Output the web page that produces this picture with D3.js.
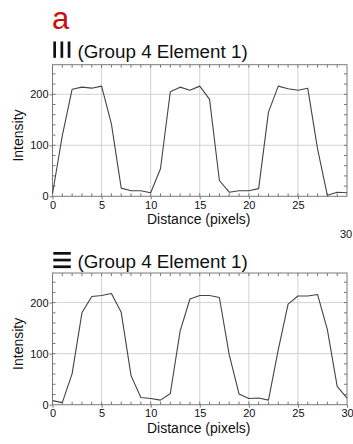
<!DOCTYPE html>
<html>
<head>
<meta charset="utf-8">
<script src="https://cdn.jsdelivr.net/npm/d3@7/dist/d3.min.js"></script>
<style>
  html, body { margin: 0; padding: 0; background: #fff; }
  svg { display: block; font-family: "Liberation Sans", Arial, Helvetica, sans-serif; }
</style>
</head>
<body>
<svg id="chart" width="353" height="444"></svg>
<script>
// ---- data ----
const distance = [0,1,2,3,4,5,6,7,8,9,10,11,12,13,14,15,16,17,18,19,20,21,22,23,24,25,26,27,28,29,30];
const verticalBarsIntensity = [5,119,210,214,212,216,142,16,11,11,7,54,205,214,208,216,190,31,8,11,11,15,165,216,211,208,212,93,2,8,7];
const horizontalBarsIntensity = [8,4,61,180,212,214,218,181,57,14,12,9,22,144,207,214,214,210,98,21,12,13,9,108,197,213,213,216,147,36,13];
const xTickValues = [0,5,10,15,20,25,30];
const yTickValues = [0,100,200];
const panelTitle = "(Group 4 Element 1)";
const xAxisTitle = "Distance (pixels)";
const yAxisTitle = "Intensity";

const svg = d3.select("#chart");

// panel letter
svg.append("text")
  .attr("x", 52).attr("y", 29)
  .attr("font-size", 31)
  .attr("fill", "#c8100f")
  .text("a");

function drawPanel(cfg) {
  const x = d3.scaleLinear().domain([0, 30]).range([cfg.left, cfg.right]);
  const y = d3.scaleLinear().domain([0, 258]).range([cfg.bottom, cfg.top]);
  const g = svg.append("g");

  // grid lines
  g.selectAll(".vgrid").data([5,10,15,20,25]).join("line")
    .attr("x1", d => x(d)).attr("x2", d => x(d))
    .attr("y1", cfg.top).attr("y2", cfg.bottom)
    .attr("stroke", "#d2d2d2").attr("stroke-width", 1);
  g.selectAll(".hgrid").data([100,200]).join("line")
    .attr("x1", cfg.left).attr("x2", cfg.right)
    .attr("y1", d => y(d)).attr("y2", d => y(d))
    .attr("stroke", "#d2d2d2").attr("stroke-width", 1);

  // minor ticks (inward) on all four sides
  const xMinor = d3.range(1, 30);
  const yMinor = d3.range(20, 258, 20);
  const tk = 3;
  g.selectAll(".xb").data(xMinor).join("line")
    .attr("x1", d => x(d)).attr("x2", d => x(d))
    .attr("y1", cfg.bottom).attr("y2", cfg.bottom - tk)
    .attr("stroke", "#777").attr("stroke-width", 1);
  g.selectAll(".xt").data(xMinor).join("line")
    .attr("x1", d => x(d)).attr("x2", d => x(d))
    .attr("y1", cfg.top).attr("y2", cfg.top + tk)
    .attr("stroke", "#777").attr("stroke-width", 1);
  g.selectAll(".yl").data(yMinor).join("line")
    .attr("x1", cfg.left).attr("x2", cfg.left + tk)
    .attr("y1", d => y(d)).attr("y2", d => y(d))
    .attr("stroke", "#777").attr("stroke-width", 1);
  g.selectAll(".yr").data(yMinor).join("line")
    .attr("x1", cfg.right).attr("x2", cfg.right - tk)
    .attr("y1", d => y(d)).attr("y2", d => y(d))
    .attr("stroke", "#777").attr("stroke-width", 1);

  // frame
  g.append("rect")
    .attr("x", cfg.left).attr("y", cfg.top)
    .attr("width", cfg.right - cfg.left).attr("height", cfg.bottom - cfg.top)
    .attr("fill", "none").attr("stroke", "#7a7a7a").attr("stroke-width", 1);

  // axes
  const yAxis = d3.axisLeft(y).tickValues(yTickValues).tickSize(3).tickPadding(1);
  const ya = g.append("g").attr("transform", `translate(${cfg.left},0)`).call(yAxis);
  ya.select(".domain").remove();
  ya.selectAll(".tick line").attr("stroke", "#777");
  ya.selectAll(".tick text").attr("font-size", 11).attr("fill", "#111")
    .attr("font-family", "Liberation Sans, Arial, sans-serif");

  const xTicks = cfg.showLast30 ? xTickValues : xTickValues.filter(v => v < 30);
  const xAxis = d3.axisBottom(x).tickValues(xTicks).tickSize(3).tickPadding(2);
  const xa = g.append("g").attr("transform", `translate(0,${cfg.bottom})`).call(xAxis);
  xa.select(".domain").remove();
  xa.selectAll(".tick line").attr("stroke", "#777");
  xa.selectAll(".tick text").attr("font-size", 11).attr("fill", "#111")
    .attr("font-family", "Liberation Sans, Arial, sans-serif");

  // data line
  const line = d3.line().x(d => x(d[0])).y(d => y(d[1]));
  g.append("path")
    .datum(distance.map((d, i) => [d, cfg.values[i]]))
    .attr("d", line)
    .attr("fill", "none")
    .attr("stroke", "#444")
    .attr("stroke-width", 1.1)
    .attr("stroke-linejoin", "round");

  // axis titles
  g.append("text")
    .attr("x", (cfg.left + cfg.right) / 2 - 1)
    .attr("y", cfg.bottom + 28)
    .attr("text-anchor", "middle")
    .attr("font-size", 14).attr("fill", "#111")
    .text(xAxisTitle);
  g.append("text")
    .attr("transform", `translate(23,${(cfg.top + cfg.bottom) / 2 + 5}) rotate(-90)`)
    .attr("text-anchor", "middle")
    .attr("font-size", 14).attr("fill", "#111")
    .text(yAxisTitle);

  // panel title: icon + text
  if (cfg.icon === "vertical") {
    g.selectAll(".icon").data([0,1,2]).join("rect")
      .attr("x", d => 53.3 + d * 7.2).attr("y", cfg.titleBaseline - 16)
      .attr("width", 2.7).attr("height", 16.3)
      .attr("fill", "#111");
  } else {
    g.selectAll(".icon").data([0,1,2]).join("rect")
      .attr("x", 53.3).attr("y", d => cfg.titleBaseline - 16 + d * 6.7)
      .attr("width", 17.5).attr("height", 2.7)
      .attr("fill", "#111");
  }
  g.append("text")
    .attr("x", 77.5).attr("y", cfg.titleBaseline)
    .attr("font-size", 18.8).attr("fill", "#111")
    .text(panelTitle);

  return { x, y, g };
}

const upperPanel = drawPanel({
  left: 52.5, right: 347, top: 64.7, bottom: 196.3,
  values: verticalBarsIntensity, icon: "vertical", titleBaseline: 57.5, showLast30: false
});
// displaced "30" tick label of the upper panel
upperPanel.g.append("text")
  .attr("x", 340).attr("y", 238)
  .attr("font-size", 11).attr("fill", "#111")
  .text("30");

drawPanel({
  left: 52.5, right: 347, top: 273, bottom: 404.7,
  values: horizontalBarsIntensity, icon: "horizontal", titleBaseline: 268, showLast30: true
});
</script>
</body>
</html>
